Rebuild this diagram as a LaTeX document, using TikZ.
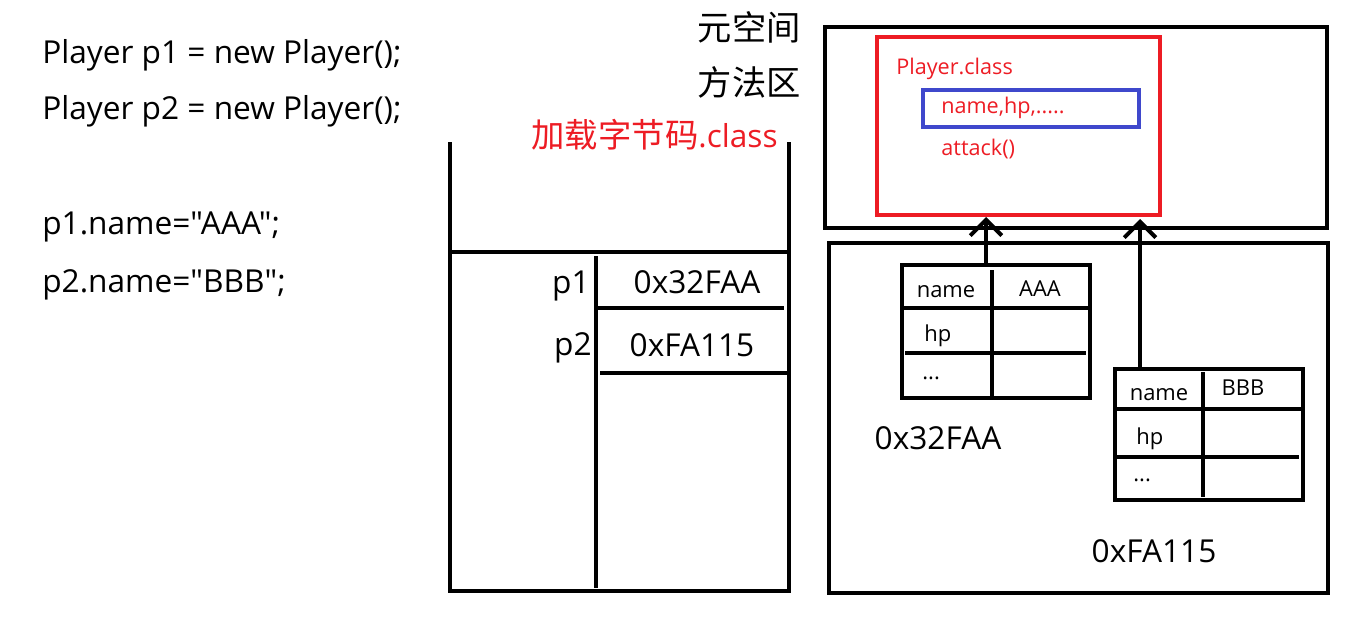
\documentclass[tikz,border=0pt]{standalone}
\usepackage{fontspec}
\setmainfont{Open Sans}[Ligatures=TeXOff]
\newfontfamily\cjk{Noto Sans CJK SC}
\usetikzlibrary{arrows.meta}
\definecolor{jvmred}{RGB}{237,28,36}
\definecolor{jvmblue}{RGB}{63,72,204}
\begin{document}
\begin{tikzpicture}[x=0.02cm,y=-0.02cm,
        wall/.style={line width=2.3pt,black},
        big/.style={inner sep=0pt,font=\fontsize{18}{21}\selectfont},
        code/.style={big,anchor=west},
        cell/.style={inner sep=0pt,font=\fontsize{12.5}{15}\selectfont},
        redtxt/.style={anchor=west,inner sep=0pt,text=jvmred,font=\fontsize{12.3}{15}\selectfont},
        ref/.style={line width=2.3pt,-{Straight Barb[length=9pt,width=18pt,line width=2.3pt]}}]
        \useasboundingbox (0,0) rectangle (1350,619);

        % code
        \node[code] (new1) at (42,55) {Player p1 = new Player();};
        \node[code] (new2) at (42,111) {Player p2 = new Player();};
        \node[code] (set1) at (42,227) {p1.name="AAA";};
        \node[code] (set2) at (42,285) {p2.name="BBB";};

        % stack
        \draw[wall] (450,142) -- (450,591) -- (789,591) -- (789,142);
        \draw[wall] (450,252) -- (787,252);
        \draw[wall] (596,256) -- (596,588);
        \draw[wall] (596,308) -- (784,308);
        \draw[wall] (600,373) -- (787,373);
        \node[big,anchor=east] (p1) at (590,286) {p1};
        \node[big,anchor=east] (p2) at (592,348) {p2};
        \node[big] (addr1) at (697,282) {0x32FAA};
        \node[big] (addr2) at (692,345) {0xFA115};
        \node[big,anchor=east,text=jvmred] (load) at (778,135) {{\cjk\fontsize{19}{21}\selectfont 加载字节码}.class};

        % metaspace
        \node[inner sep=0pt,anchor=east,font=\cjk\fontsize{19.5}{22}\selectfont] (meta) at (801,27) {元空间};
        \node[inner sep=0pt,anchor=east,font=\cjk\fontsize{19.5}{22}\selectfont] (method) at (801,82) {方法区};
        \draw[wall] (825,27) rectangle (1327,228);
        \draw[line width=1.8pt,jvmred] (877,37) rectangle (1160,215);
        \draw[line width=1.8pt,jvmblue] (923,90) rectangle (1139,127);
        \node[redtxt] (cls) at (896,69) {Player.class};
        \node[redtxt] (fields) at (941,108) {name,hp,.....};
        \node[redtxt] (attack) at (941,149) {attack()};
        \coordinate (in1) at (986,217);
        \coordinate (in2) at (1140,219);

        % heap
        \draw[wall] (829,243) rectangle (1328,593);
        %% object p1
        \draw[wall] (902,265) rectangle (1090,398);
        \draw[wall] (992,270) -- (992,396);
        \draw[wall] (902,308) -- (1090,308);
        \draw[wall] (905,353) -- (1086,353);
        \node[cell] (name1) at (946,292) {name};
        \node[cell] (val1) at (1040,289) {AAA};
        \node[cell,anchor=west] (hp1) at (924,336) {hp};
        \node[cell,anchor=west] (dots1) at (922,378) {...};
        \node[big] (obj1) at (938,438) {0x32FAA};
        \coordinate (out1) at (986,265);
        \draw[ref] (out1) -- (in1);
        %% object p2
        \draw[wall] (1115,369) rectangle (1303,500);
        \draw[wall] (1203,372) -- (1203,497);
        \draw[wall] (1115,409) -- (1303,409);
        \draw[wall] (1115,457) -- (1299,457);
        \node[cell] (name2) at (1159,395) {name};
        \node[cell] (val2) at (1243,388) {BBB};
        \node[cell,anchor=west] (hp2) at (1136,439) {hp};
        \node[cell,anchor=west] (dots2) at (1133,480) {...};
        \node[big] (obj2) at (1154,551) {0xFA115};
        \coordinate (out2) at (1140,367);
        \draw[ref] (out2) -- (in2);
\end{tikzpicture}
\end{document}
